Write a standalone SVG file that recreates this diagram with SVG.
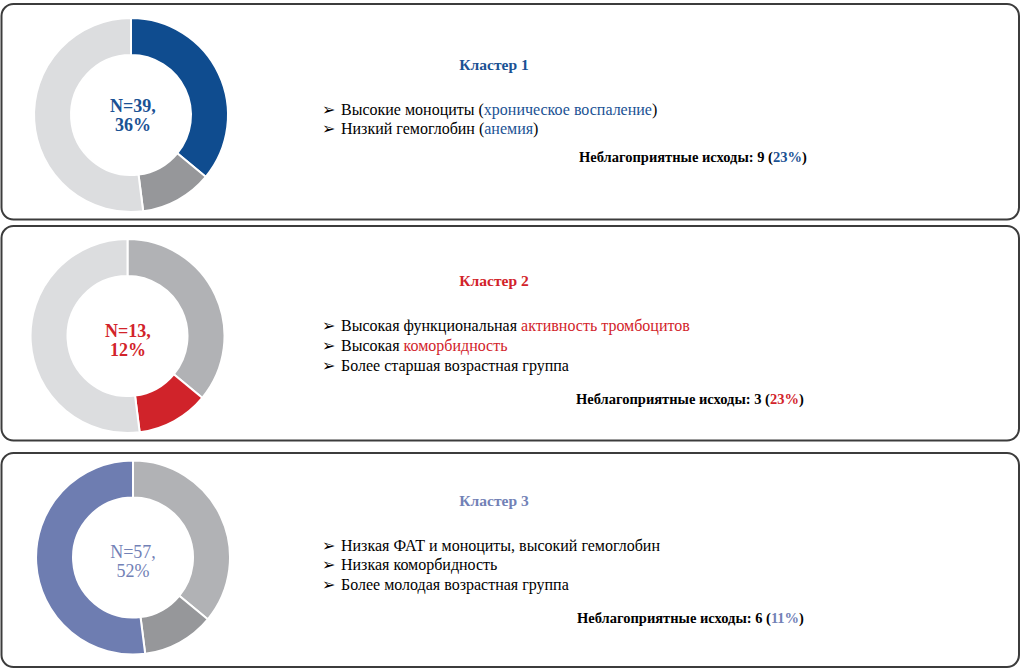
<svg xmlns="http://www.w3.org/2000/svg" width="1033" height="671" viewBox="0 0 1033 671">
<style>
.box{fill:#fff;stroke:#3c3c3c;stroke-width:2}
.seg{stroke:#fff;stroke-width:2}
.t{font-family:"Liberation Serif","Times New Roman",serif}
.title{font-size:15.5px;font-weight:bold;text-anchor:middle}
.item{font-size:16px;fill:#000}
.bul{font-family:"DejaVu Sans",sans-serif;font-size:16px}
.out{font-size:14.5px;font-weight:bold;fill:#000}
.lbl{font-size:18px;text-anchor:middle}
.c1{fill:#1a5294}
.c2{fill:#d2232a}
.c3{fill:#7281b6}
</style>
<defs>
<path id="sA" d="M0,-97 A97,97 0 0 1 74.74,61.83 L46.23,38.24 A60,60 0 0 0 0,-60 Z"/>
<path id="sB" d="M74.74,61.83 A97,97 0 0 1 12.16,96.24 L7.52,59.53 A60,60 0 0 0 46.23,38.24 Z"/>
<path id="sC" d="M12.16,96.24 A97,97 0 1 1 0,-97 L0,-60 A60,60 0 1 0 7.52,59.53 Z"/>
</defs>

<g id="cluster1">
<rect class="box" x="1.5" y="4" width="1017.5" height="215.5" rx="12"/>
<g transform="translate(131,115)">
<use href="#sA" class="seg" fill="#0f4c8f"/>
<use href="#sB" class="seg" fill="#96979a"/>
<use href="#sC" class="seg" fill="#dcdddf"/>
</g>
<text class="t lbl c1" font-weight="bold" x="133" y="112">N=39,</text>
<text class="t lbl c1" font-weight="bold" x="133" y="131">36%</text>
<text class="t title c1" x="494" y="70">Кластер 1</text>
<text class="t item" x="322" y="115"><tspan class="bul">➢</tspan><tspan x="341">Высокие моноциты (</tspan><tspan class="c1">хроническое воспаление</tspan>)</text>
<text class="t item" x="322" y="134"><tspan class="bul">➢</tspan><tspan x="341">Низкий гемоглобин (</tspan><tspan class="c1">анемия</tspan>)</text>
<text class="t out" x="579" y="162">Неблагоприятные исходы: 9 (<tspan class="c1">23%</tspan>)</text>
</g>

<g id="cluster2">
<rect class="box" x="1.5" y="226" width="1017.5" height="214.5" rx="12"/>
<g transform="translate(127.5,336)">
<use href="#sA" class="seg" fill="#b1b2b5"/>
<use href="#sB" class="seg" fill="#d0232a"/>
<use href="#sC" class="seg" fill="#dcdddf"/>
</g>
<text class="t lbl c2" font-weight="bold" x="128" y="337">N=13,</text>
<text class="t lbl c2" font-weight="bold" x="128" y="356">12%</text>
<text class="t title c2" x="494" y="286">Кластер 2</text>
<text class="t item" x="322" y="331"><tspan class="bul">➢</tspan><tspan x="341">Высокая функциональная </tspan><tspan class="c2">активность тромбоцитов</tspan></text>
<text class="t item" x="322" y="351"><tspan class="bul">➢</tspan><tspan x="341">Высокая </tspan><tspan class="c2">коморбидность</tspan></text>
<text class="t item" x="322" y="371"><tspan class="bul">➢</tspan><tspan x="341">Более старшая возрастная группа</tspan></text>
<text class="t out" x="576" y="404">Неблагоприятные исходы: 3 (<tspan class="c2">23%</tspan>)</text>
</g>

<g id="cluster3">
<rect class="box" x="1.5" y="453" width="1017.5" height="214" rx="12"/>
<g transform="translate(133,557.5)">
<use href="#sA" class="seg" fill="#b1b2b5"/>
<use href="#sB" class="seg" fill="#96979a"/>
<use href="#sC" class="seg" fill="#6e7db1"/>
</g>
<text class="t lbl c3" x="133" y="558">N=57,</text>
<text class="t lbl c3" x="133" y="577">52%</text>
<text class="t title c3" x="494" y="506">Кластер 3</text>
<text class="t item" x="322" y="551"><tspan class="bul">➢</tspan><tspan x="341">Низкая ФАТ и моноциты, высокий гемоглобин</tspan></text>
<text class="t item" x="322" y="570"><tspan class="bul">➢</tspan><tspan x="341">Низкая коморбидность</tspan></text>
<text class="t item" x="322" y="590"><tspan class="bul">➢</tspan><tspan x="341">Более молодая возрастная группа</tspan></text>
<text class="t out" x="577" y="623">Неблагоприятные исходы: 6 (<tspan class="c3">11%</tspan>)</text>
</g>

<g id="connectors"></g>
</svg>
